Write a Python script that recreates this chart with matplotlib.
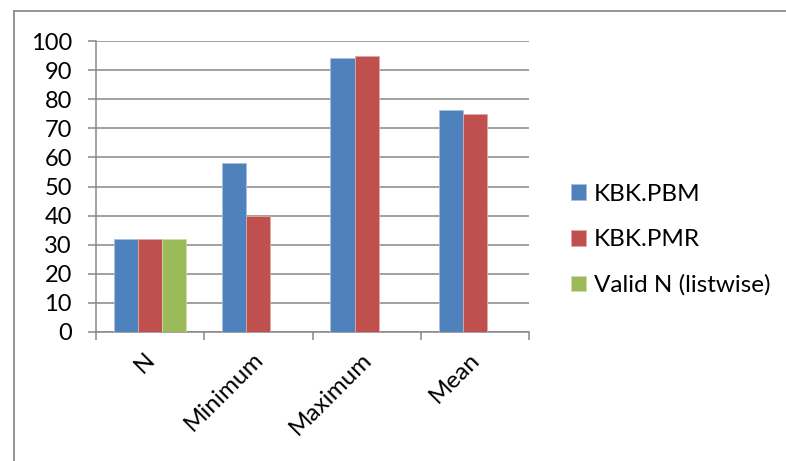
import numpy as np
import matplotlib
matplotlib.use("Agg")
import matplotlib.pyplot as plt
from matplotlib.lines import Line2D
from matplotlib.transforms import ScaledTranslation

plt.rcParams['font.family'] = ['Lato', 'DejaVu Sans']

categories = ["N", "Minimum", "Maximum", "Mean"]
series_names = ["KBK.PBM", "KBK.PMR", "Valid N (listwise)"]
kbk_pbm = [32, 58, 94, 76.4]
kbk_pmr = [32, 40, 95, 75]
valid_n = [32, np.nan, np.nan, np.nan]
y_ticks = list(range(0, 101, 10))

colors = ["#4F81BD", "#C0504D", "#9BBB59"]
edge_colors = ["#A7C0DE", "#DFA8A6", "#CDDDAC"]
grid_color = "#878787"

W, H = 786, 461
fig = plt.figure(figsize=(W / 100, H / 100), dpi=100)
ax = fig.add_axes([96 / W, (H - 332) / H, (529 - 96) / W, (332 - 41) / H])

x = np.arange(len(categories))
bw = 0.224
for i, (vals, c, ec, name) in enumerate(zip([kbk_pbm, kbk_pmr, valid_n], colors, edge_colors, series_names)):
    ax.bar(x + (i - 1) * bw, vals, width=bw, color=c, edgecolor=ec,
           linewidth=0.6, label=name, zorder=3)

ax.set_xlim(-0.5, len(categories) - 0.5)
ax.set_ylim(0, 100)
ax.set_yticks(y_ticks)
ax.yaxis.grid(True, color=grid_color, linewidth=1.1, zorder=0)
ax.set_axisbelow(True)

for s in ["top", "right"]:
    ax.spines[s].set_visible(False)
for s in ["left", "bottom"]:
    ax.spines[s].set_color(grid_color)
    ax.spines[s].set_linewidth(1.1)

ax.tick_params(axis="y", length=5.8, width=1.1, color=grid_color, pad=11.5,
               labelsize=17, labelcolor="black")

# category boundaries carry the tick marks; labels sit at the centres
ax.set_xticks(np.arange(-0.5, len(categories), 1.0), minor=True)
ax.set_xticks(x)
ax.set_xticklabels(categories, rotation=45, ha="right", va="top",
                   rotation_mode="anchor")
ax.tick_params(axis="x", which="minor", length=5.8, width=1.1, color=grid_color)
ax.tick_params(axis="x", which="major", length=0, pad=12, labelsize=17.5,
               labelcolor="black")
shift = ScaledTranslation(-6 / 100, 0, fig.dpi_scale_trans)
for lbl in ax.get_xticklabels():
    lbl.set_transform(lbl.get_transform() + shift)

leg = ax.legend(loc="center left", bbox_to_anchor=(571 / W, 1 - 240 / H),
                bbox_transform=fig.transFigure, frameon=False, fontsize=17.5,
                handlelength=0.63, handleheight=0.63, handletextpad=0.3,
                labelspacing=1.0, borderpad=0, borderaxespad=0)

# outer chart border (left and top edges)
fig.add_artist(Line2D([13.5 / W, 13.5 / W], [0, 1 - 11.5 / H], transform=fig.transFigure,
                      color="#8C8C8C", linewidth=1.3))
fig.add_artist(Line2D([13.5 / W, 1], [1 - 11.5 / H, 1 - 11.5 / H], transform=fig.transFigure,
                      color="#8C8C8C", linewidth=1.3))

fig.savefig("out.png", dpi=100)
